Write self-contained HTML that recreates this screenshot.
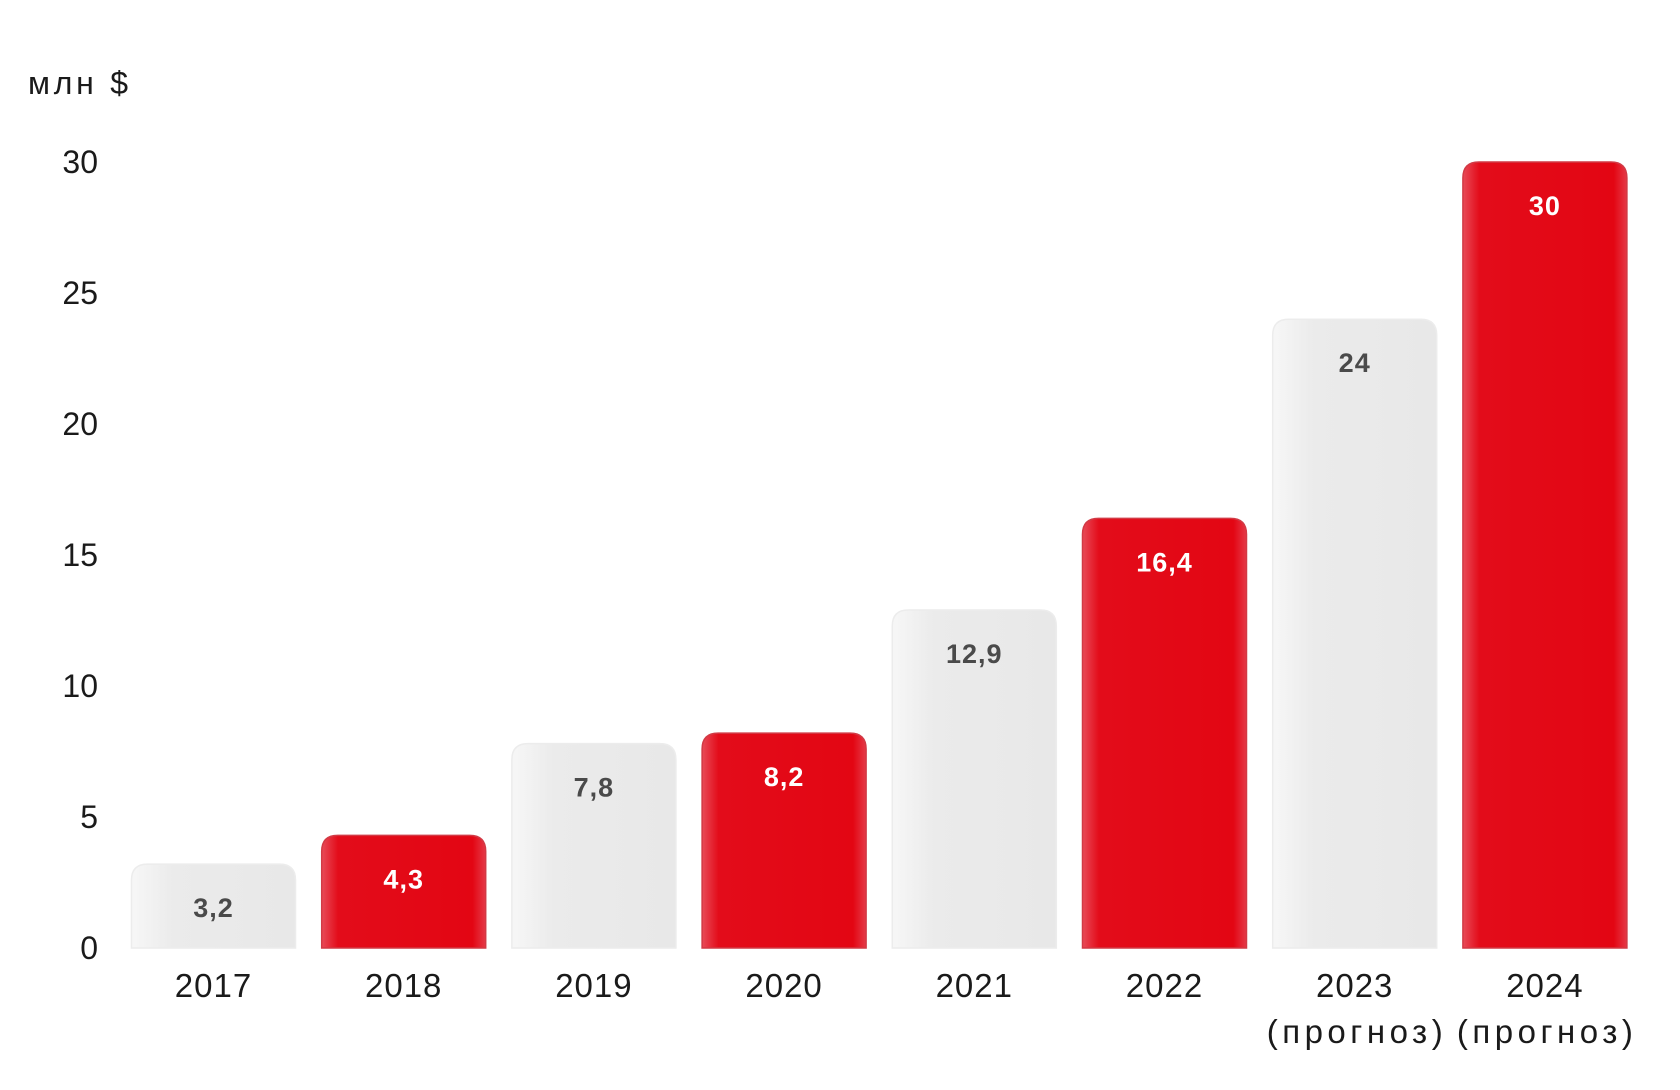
<!DOCTYPE html>
<html><head><meta charset="utf-8"><style>
body{margin:0;background:#fff;}
svg{display:block;font-family:"Liberation Sans","DejaVu Sans",sans-serif;}
</style></head><body>
<svg id="chart" width="1680" height="1090" viewBox="0 0 1680 1090" xmlns="http://www.w3.org/2000/svg">
<defs>
<linearGradient id="gGray" x1="0" y1="0" x2="1" y2="0">
<stop offset="0" stop-color="#f7f7f7"/><stop offset="0.25" stop-color="#ebebeb"/><stop offset="1" stop-color="#e8e8e8"/>
</linearGradient>
<linearGradient id="gRed" x1="0" y1="0" x2="1" y2="0">
<stop offset="0" stop-color="#e84b58"/><stop offset="0.1" stop-color="#e30c1a"/><stop offset="0.92" stop-color="#e30613"/><stop offset="1" stop-color="#e53a48"/>
</linearGradient>
</defs>
<text x="28" y="94" font-size="32" fill="#1a1a1a" textLength="100" lengthAdjust="spacing">млн $</text>
<g id="yaxis"></g><g id="bars"></g><g id="xaxis"></g>
</svg>
<script>
const categories = ["2017","2018","2019","2020","2021","2022","2023","2024"];
const subLabels = ["","","","","","","(прогноз)","(прогноз)"];
const values = [3.2,4.3,7.8,8.2,12.9,16.4,24,30];
const valueLabels = ["3,2","4,3","7,8","8,2","12,9","16,4","24","30"];
const highlight = [false,true,false,true,false,true,false,true];
const yTicks = [0,5,10,15,20,25,30];

const NS="http://www.w3.org/2000/svg";
const baseY=948, unit=26.2, x0=213.5, pitch=190.2, bw=164, r=16;
const y=v=>baseY-v*unit;
const xc=i=>x0+i*pitch;
function mk(tag,attrs,parent){const e=document.createElementNS(NS,tag);for(const k in attrs)e.setAttribute(k,attrs[k]);parent.appendChild(e);return e;}
const gy=document.getElementById('yaxis'),gb=document.getElementById('bars'),gx=document.getElementById('xaxis');
yTicks.forEach(t=>{
  const e=mk('text',{x:98,y:y(t)+11,'font-size':32,'text-anchor':'end',fill:'#1a1a1a'},gy);
  
  
  e.textContent=t;
});
values.forEach((v,i)=>{
  const L=xc(i)-bw/2, T=y(v), R=L+bw, B=baseY;
  const rr=Math.min(r,(B-T)/2);
  const d=`M${L},${B} L${L},${T+rr} Q${L},${T} ${L+rr},${T} L${R-rr},${T} Q${R},${T} ${R},${T+rr} L${R},${B} Z`;
  const p=mk('path',{d:d,fill:highlight[i]?'url(#gRed)':'url(#gGray)',stroke:highlight[i]?'#d23a45':'#ececec','stroke-width':1.5},gb);
  
  
  const t=mk('text',{x:xc(i),y:T+53,'font-size':27,'font-weight':'bold','text-anchor':'middle','letter-spacing':1,fill:highlight[i]?'#ffffff':'#4a4a4a'},gb);
  
  
  t.textContent=valueLabels[i];
  const c=mk('text',{x:xc(i),y:997,'font-size':33,'text-anchor':'middle','letter-spacing':1,fill:'#1a1a1a'},gx);
  
  
  c.textContent=categories[i];
  if(subLabels[i]){
    const s=mk('text',{x:xc(i),y:1043,'font-size':33,'text-anchor':'middle',fill:'#1a1a1a',textLength:176,lengthAdjust:'spacing'},gx);
    
    
    s.textContent=subLabels[i];
  }
});
</script>
</body></html>
